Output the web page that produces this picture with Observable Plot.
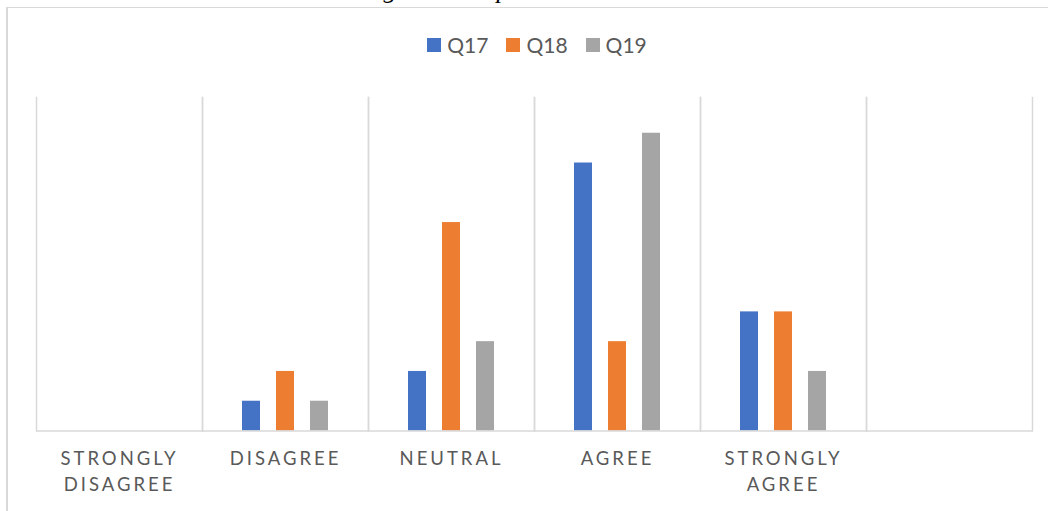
<!DOCTYPE html>
<html><head><meta charset="utf-8">
<script src="https://cdn.jsdelivr.net/npm/d3@7"></script>
<script src="https://cdn.jsdelivr.net/npm/@observablehq/plot@0.6"></script>
<style>
html,body{margin:0;padding:0;background:#fff;}
body{width:1048px;height:511px;overflow:hidden;position:relative;font-family:Lato,sans-serif;}
#title{position:absolute;left:0;width:1067px;top:-23px;text-align:center;font:italic 26px/26px "Liberation Serif",serif;color:#000;white-space:nowrap}
#box{position:absolute;left:6px;top:7px;width:1100px;height:600px;border-top:1px solid #d9d9d9;border-left:2px solid #d9d9d9;}
#legend{position:absolute;top:33px;left:0;width:1074px;display:flex;justify-content:center;gap:18px;font:21px Lato,sans-serif;color:#595959;line-height:24px}
.item{display:flex;align-items:center;gap:6px;height:24px}
.sw{width:14px;height:14px;display:inline-block}
#chart{position:absolute;left:0;top:70px}
#chart g[aria-label="fx-axis tick label"] text{letter-spacing:3px}
</style>
</head><body>
<div id="title">Figure 14: Open Communication</div>
<div id="box"></div>
<div id="legend"></div>
<div id="chart"></div>
<script>
const categories = ["Strongly Disagree","Disagree","Neutral","Agree","Strongly Agree",""];
const tickLabels = ["STRONGLY\nDISAGREE","DISAGREE","NEUTRAL","AGREE","STRONGLY\nAGREE",""];
const seriesNames = ["Q17","Q18","Q19"];
const seriesColors = ["#4472C4","#ED7D31","#A5A5A5"];
const q17 = [0,1,2,9,4,0];
const q18 = [0,2,7,3,4,0];
const q19 = [0,1,3,10,2,0];

const seriesValues = [q17,q18,q19];
const rows = [];
categories.forEach((c,i) => seriesNames.forEach((s,j) => rows.push({cat:c, series:s, value:seriesValues[j][i]})));

// legend
const legend = document.getElementById("legend");
seriesNames.forEach((s,j) => {
  const it = document.createElement("div"); it.className="item";
  const sw = document.createElement("span"); sw.className="sw"; sw.style.background = seriesColors[j];
  const tx = document.createElement("span"); tx.textContent = s;
  it.append(sw, tx); legend.append(it);
});

const labelOf = new Map(categories.map((c,i)=>[c,tickLabels[i]]));

const chart = Plot.plot({
  width: 1048,
  height: 441,
  marginLeft: 36,
  marginRight: 16,
  marginTop: 27,
  marginBottom: 80.5,
  style: {fontFamily: "Lato, sans-serif", background: "none", overflow: "visible"},
  fx: {domain: categories, padding: 0},
  x: {domain: seriesNames, paddingInner: 0.4706, paddingOuter: 1.176, axis: null},
  y: {domain: [0, 11.2], axis: null},
  color: {domain: seriesNames, range: seriesColors},
  marks: [
    Plot.frame({anchor: "left", stroke: "#d9d9d9", strokeWidth: 1.5}),
    Plot.frame({anchor: "right", stroke: "#d9d9d9", strokeWidth: 1.5}),
    Plot.barY(rows, {fx: "cat", x: "series", y: "value", fill: "series"}),
    Plot.ruleY([0], {stroke: "#d9d9d9", strokeWidth: 1.5}),
    Plot.axisFx({anchor: "bottom", tickSize: 0, tickPadding: 16, fontSize: 18.5, fill: "#595959",
      lineHeight: 1.4, tickFormat: d => labelOf.get(d), label: null})
  ]
});
document.getElementById("chart").append(chart);
</script>
</body></html>
